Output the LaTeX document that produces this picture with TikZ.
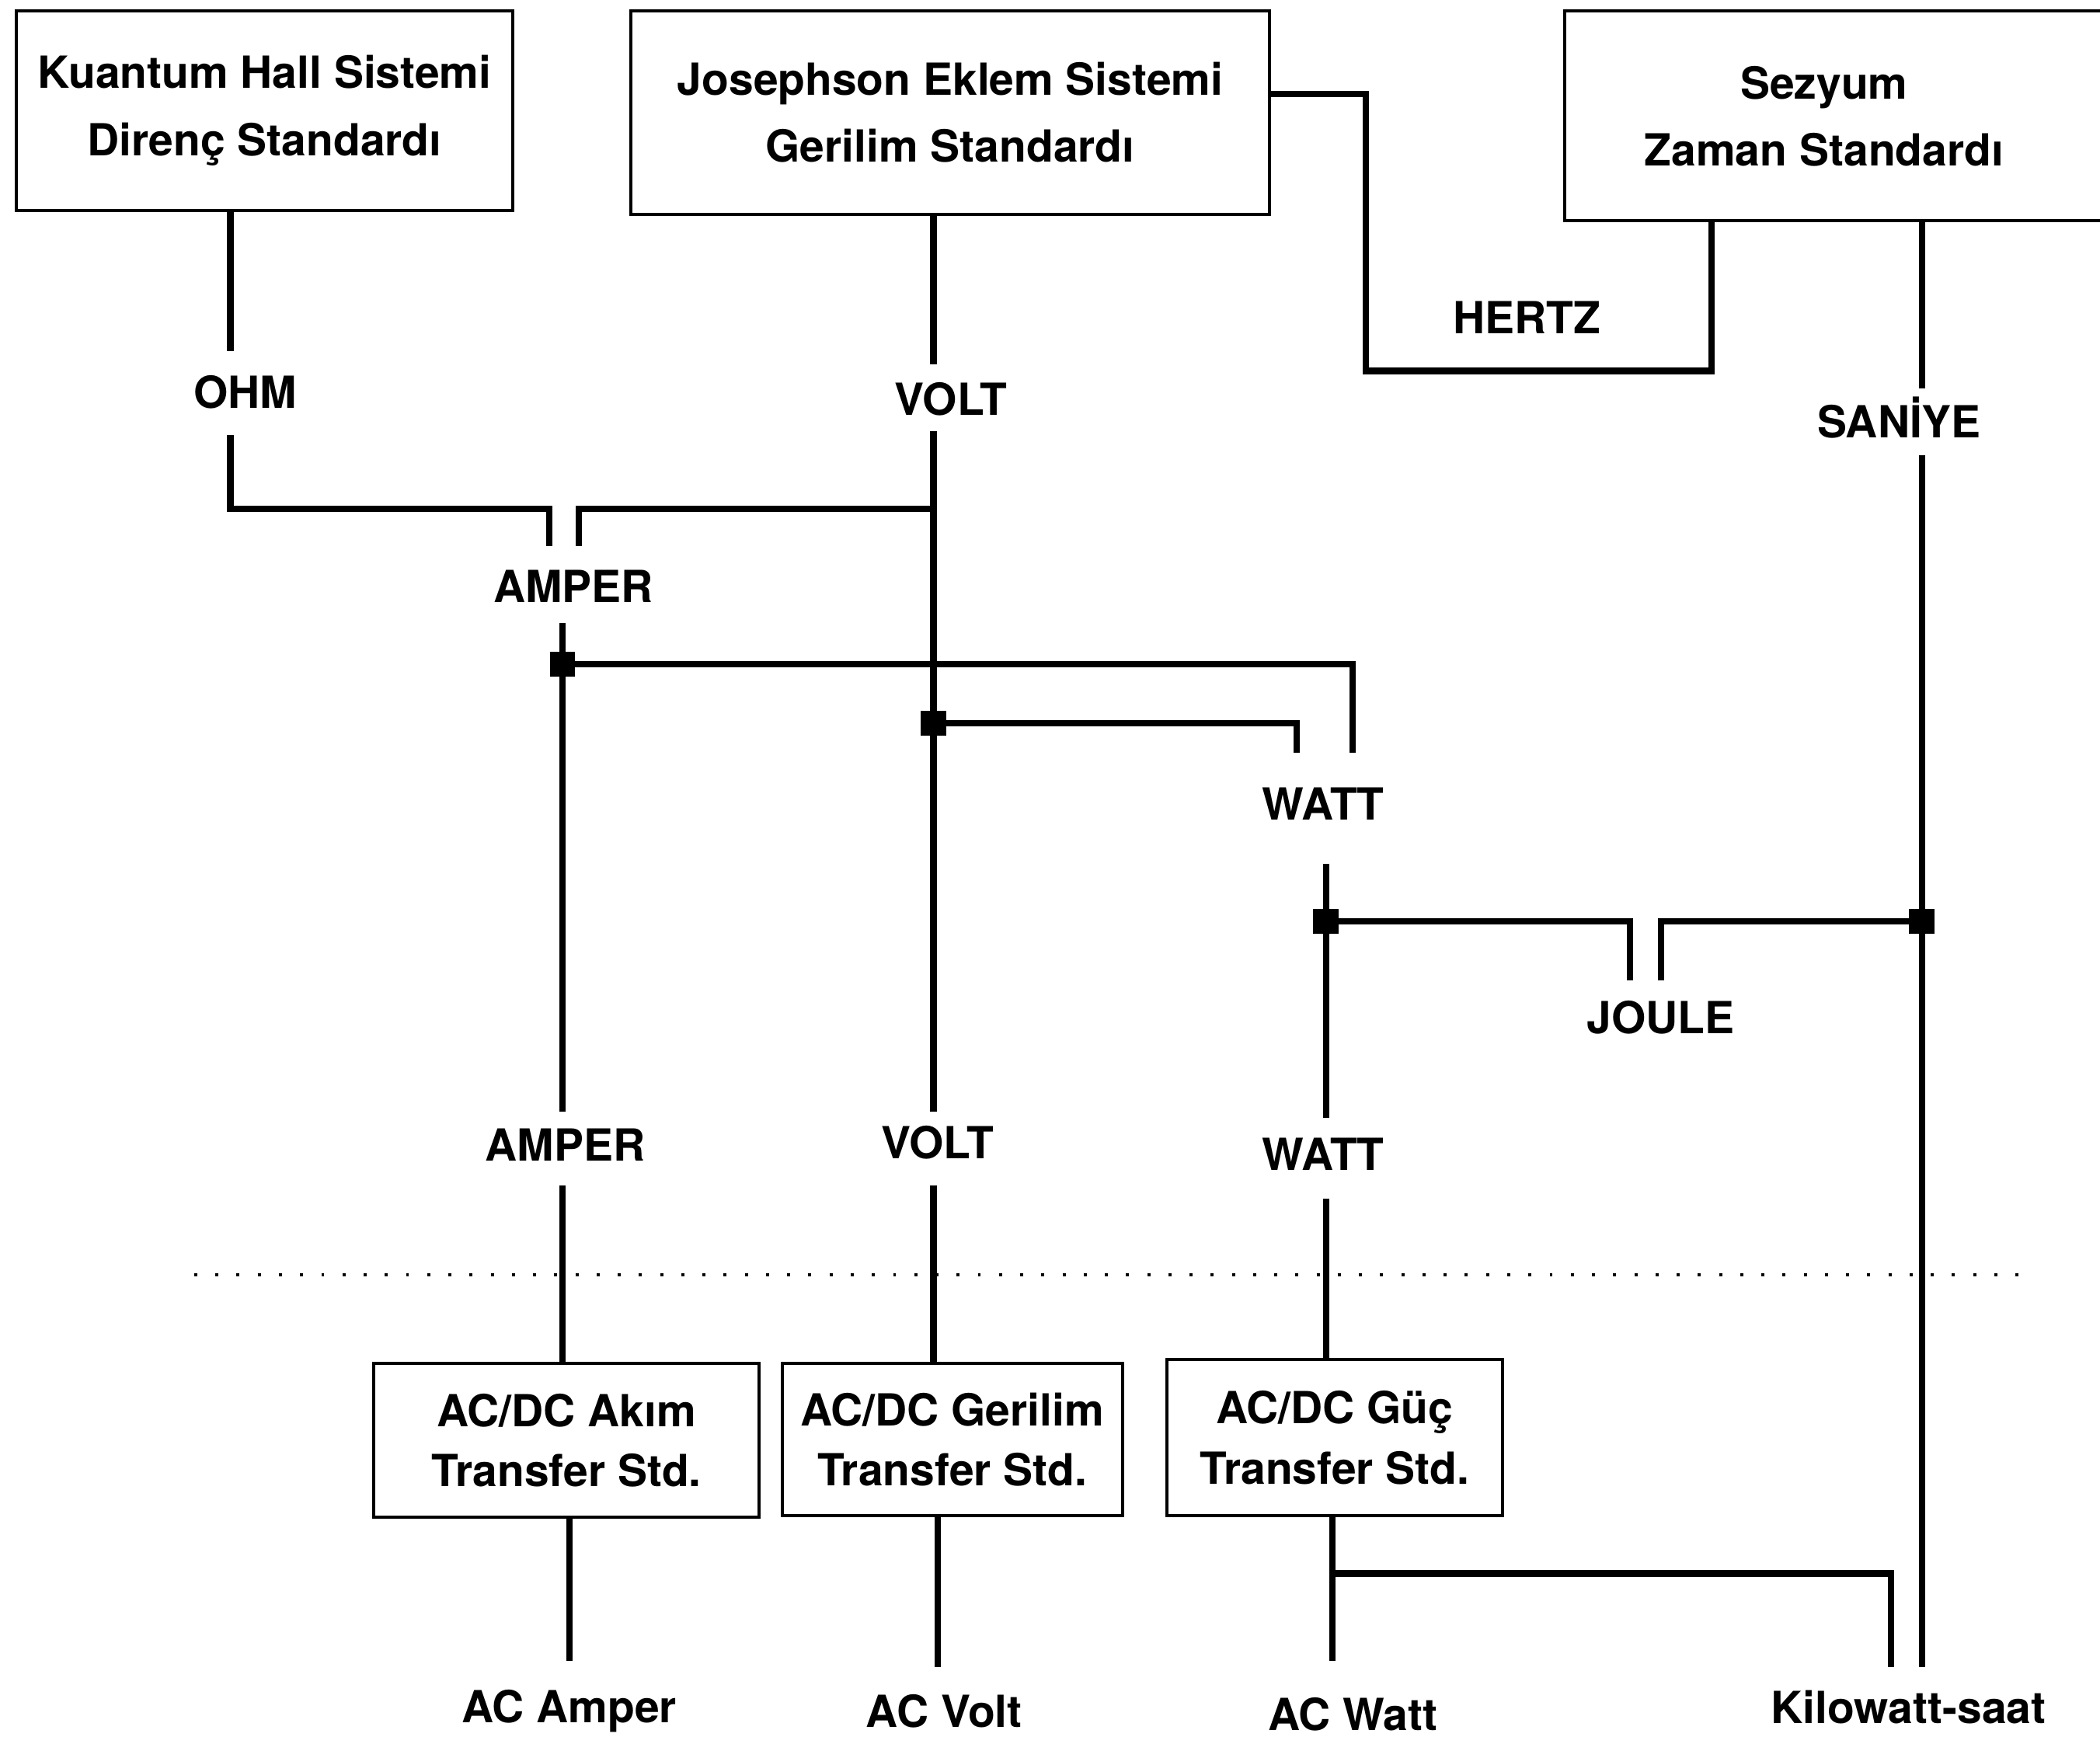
\documentclass[tikz,border=0pt]{standalone}
\usepackage{fontspec}
\setmainfont{TeX Gyre Heros}
\begin{document}
\begin{tikzpicture}[x=0.02cm,y=-0.02cm,
  box/.style={draw, line width=1.3pt, inner sep=0pt, align=center, font=\fontsize{18.8}{28.5}\selectfont\bfseries},
  bbox/.style={draw, line width=1.3pt, inner sep=0pt, align=center, font=\fontsize{18.8}{25.6}\selectfont\bfseries},
  boxtext/.style={inner sep=0pt, align=center, font=\fontsize{18.8}{28.5}\selectfont\bfseries},
  lbl/.style={inner sep=0pt, font=\fontsize{18.8}{22}\selectfont\bfseries},
  conn/.style={line width=2.7pt, line join=miter},
  jn/.style={fill=black, minimum size=0.38cm, inner sep=0pt},
  dotline/.style={line width=1.3pt, dash pattern=on 1.3pt off 7.7pt}
]
\clip (0,0) rectangle (1568,1307);
\fill[white] (0,0) rectangle (1568,1307);

% top boxes
\node[box, minimum width=7.42cm, minimum height=2.98cm] (kh) at (197.5,82.5) {Kuantum Hall Sistemi\\Direnç Standardı};
\node[box, minimum width=9.54cm, minimum height=3.04cm] (js) at (709.5,84) {Josephson Eklem Sistemi\\Gerilim Standardı};
\node[box, minimum width=8.64cm, minimum height=3.14cm] (cs) at (1384,86.5) {};
\node[boxtext] (cst) at (1362,87) {Sezyum\\Zaman Standardı};

% labels
\node[lbl] (ohm) at (183,293) {OHM};
\node[lbl] (voltT) at (710,298) {VOLT};
\node[lbl] (hertz) at (1140,237) {HERTZ};
\node[lbl] (saniye) at (1418,312) {SANİYE};
\node[lbl] (amperT) at (428,438) {AMPER};
\node[lbl] (wattM) at (988,600) {WATT};
\node[lbl] (joule) at (1240,760) {JOULE};
\node[lbl] (amperB) at (422,855) {AMPER};
\node[lbl] (voltB) at (700,853) {VOLT};
\node[lbl] (wattB) at (988,862) {WATT};

% bottom boxes
\node[bbox, minimum width=5.76cm, minimum height=2.30cm] (tA) at (423,1075.5) {AC/DC Akım\\Transfer Std.};
\node[bbox, minimum width=5.08cm, minimum height=2.28cm] (tB) at (711,1075) {AC/DC Gerilim\\Transfer Std.};
\node[bbox, minimum width=5.02cm, minimum height=2.34cm] (tC) at (996.5,1073.5) {AC/DC Güç\\Transfer Std.};

\node[lbl] (acA) at (425,1278) {AC Amper};
\node[lbl] (acV) at (705,1278) {AC Volt};
\node[lbl] (acW) at (1010,1280) {AC Watt};
\node[lbl] (kwh) at (1425,1275) {Kilowatt-saat};

% coordinates
\coordinate (c1) at (172,262);
\coordinate (c2) at (172,325);
\coordinate (c3) at (172,380);
\coordinate (c4) at (410,408);
\coordinate (c5) at (432,408);
\coordinate (c6) at (697,380);
\coordinate (v1) at (697,272);
\coordinate (v2) at (697,322);
\coordinate (v3) at (697,830);
\coordinate (h1) at (1020,70);
\coordinate (h2) at (1020,277);
\coordinate (h3) at (1278,277);
\coordinate (s1) at (1435,290);
\coordinate (s2) at (1435,340);
\coordinate (s3) at (1435,1245);
\coordinate (a1) at (420,465);
\coordinate (a2) at (420,830);
\coordinate (jA) at (420,496);
\coordinate (jV) at (697,540);
\coordinate (jW) at (990,688);
\coordinate (jS) at (1435,688);
\coordinate (w1) at (1010,562);
\coordinate (w2) at (968,562);
\coordinate (m1) at (990,645);
\coordinate (m2) at (990,835);
\coordinate (j1) at (1217,732);
\coordinate (j2) at (1240,732);
\coordinate (b1) at (420,885);
\coordinate (b2) at (697,885);
\coordinate (b3) at (990,895);
\coordinate (d1) at (425,1240);
\coordinate (d2) at (700,1245);
\coordinate (d3) at (995,1240);
\coordinate (k1) at (995,1175);
\coordinate (k2) at (1412,1245);
\coordinate (dot1) at (145,952);
\coordinate (dot2) at (1510,952);

% connectors
\draw[conn] (kh.south -| c1) -- (c1);
\draw[conn] (c2) -- (c3) -| (c4);
\draw[conn] (js.south -| v1) -- (v1);
\draw[conn] (v2) -- (v3);
\draw[conn] (c6) -| (c5);
\draw[conn] (js.east |- h1) -- (h1) -- (h2) -| (cs.south -| h3);
\draw[conn] (cs.south -| s1) -- (s1);
\draw[conn] (s2) -- (s3);
\draw[conn] (a1) -- (a2);
\draw[conn] (jA) -| (w1);
\draw[conn] (jV) -| (w2);
\draw[conn] (m1) -- (m2);
\draw[conn] (jW) -| (j1);
\draw[conn] (jS) -| (j2);
\draw[conn] (b1) -- (tA.north -| b1);
\draw[conn] (b2) -- (tB.north -| b2);
\draw[conn] (b3) -- (tC.north -| b3);
\draw[conn] (tA.south -| d1) -- (d1);
\draw[conn] (tB.south -| d2) -- (d2);
\draw[conn] (tC.south -| d3) -- (d3);
\draw[conn] (k1) -| (k2);
\draw[dotline] (dot1) -- (dot2);

% junction squares
\node[jn] (qA) at (jA) {};
\node[jn] (qV) at (jV) {};
\node[jn] (qW) at (jW) {};
\node[jn] (qS) at (jS) {};
\end{tikzpicture}
\end{document}
